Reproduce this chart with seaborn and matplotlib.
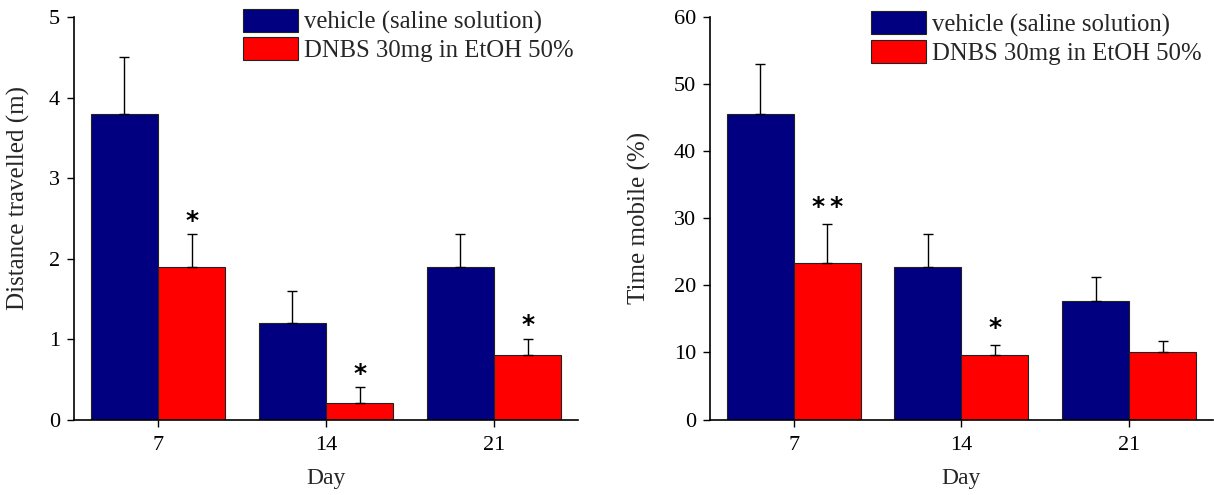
import matplotlib
matplotlib.use("Agg")
import matplotlib.pyplot as plt
import seaborn as sns
import pandas as pd
import numpy as np

days = ["7", "14", "21"]
groups = ["vehicle (saline solution)", "DNBS 30mg in EtOH 50%"]

dist_vehicle = [3.8, 1.2, 1.9]
dist_vehicle_err = [0.7, 0.4, 0.4]
dist_dnbs = [1.9, 0.2, 0.8]
dist_dnbs_err = [0.4, 0.2, 0.2]
dist_stars = ["*", "*", "*"]

mob_vehicle = [45.6, 22.8, 17.6]
mob_vehicle_err = [7.4, 4.9, 3.6]
mob_dnbs = [23.4, 9.6, 10.0]
mob_dnbs_err = [5.8, 1.5, 1.7]
mob_stars = ["*\u2009*", "*", ""]

sns.set_theme(style="ticks")
plt.rcParams["font.family"] = ["Liberation Serif", "DejaVu Serif"]
plt.rcParams["axes.linewidth"] = 1.2

colors = ["#000080", "#FF0000"]
fs_tick = 16
fs_day = 17
fs_leg = 17.8
fs_lab = 18

fig = plt.figure(figsize=(12.14, 4.95), dpi=100)
ax1 = fig.add_axes([0.0610, 0.1525, 0.4152, 0.813])
ax2 = fig.add_axes([0.5848, 0.1525, 0.4143, 0.813])


def make_df(v, d):
    return pd.DataFrame({
        "Day": days * 2,
        "Group": [groups[0]] * 3 + [groups[1]] * 3,
        "Value": list(v) + list(d),
    })


def draw(ax, v, ve, d, de, stars, ylim, yticks, ylabel, star_off,
         leg_x, leg_y, lab_x, lab_y):
    df = make_df(v, d)
    sns.barplot(data=df, x="Day", y="Value", hue="Group", order=days,
                hue_order=groups, palette=colors, errorbar=None,
                edgecolor="#222222", linewidth=0.8, saturation=1, ax=ax,
                width=0.8)
    errs = [ve, de]
    bar_conts = list(ax.containers)[:2]
    for gi, cont in enumerate(bar_conts):
        for bi, bar in enumerate(list(cont.patches)):
            cx = bar.get_x() + bar.get_width() / 2
            h = bar.get_height()
            e = errs[gi][bi]
            ax.errorbar(cx, h, yerr=[[0], [e]], fmt="none", ecolor="black",
                        elinewidth=1.0, capsize=3.5, capthick=1.0, zorder=3)
            if gi == 1 and stars[bi]:
                ax.text(cx, h + e + star_off, stars[bi], ha="center",
                        va="center", fontsize=18, fontweight="bold",
                        family="DejaVu Sans", color="black")
    ax.set_xlim(-0.5, 2.5)
    ax.set_ylim(*ylim)
    ax.set_yticks(yticks)
    ax.set_xlabel("Day", fontsize=fs_day, labelpad=9)
    ax.set_ylabel(ylabel, fontsize=fs_lab)
    ax.yaxis.set_label_coords(lab_x, lab_y)
    ax.tick_params(axis="both", labelsize=fs_tick, direction="out", length=5,
                   width=1.0, colors="black", pad=5)
    ax.tick_params(axis="x", pad=7)
    sns.despine(ax=ax)
    for s in ["left", "bottom"]:
        ax.spines[s].set_color("black")
    handles, labels = ax.get_legend_handles_labels()
    ax.legend(handles, labels, loc="upper left", bbox_to_anchor=(leg_x, leg_y),
              frameon=False, fontsize=fs_leg, handlelength=2.22,
              handleheight=1.05, handletextpad=0.25, labelspacing=0.12,
              borderpad=0, borderaxespad=0)


draw(ax1, dist_vehicle, dist_vehicle_err, dist_dnbs, dist_dnbs_err, dist_stars,
     (0, 5), [0, 1, 2, 3, 4, 5], "Distance travelled (m)", 0.17,
     0.335, 1.02, -0.088, 0.55)
draw(ax2, mob_vehicle, mob_vehicle_err, mob_dnbs, mob_dnbs_err, mob_stars,
     (0, 60), [0, 10, 20, 30, 40, 50, 60], "Time mobile (%)", 2.5,
     0.32, 1.014, -0.117, 0.5)

fig.savefig("out.png", dpi=100)
